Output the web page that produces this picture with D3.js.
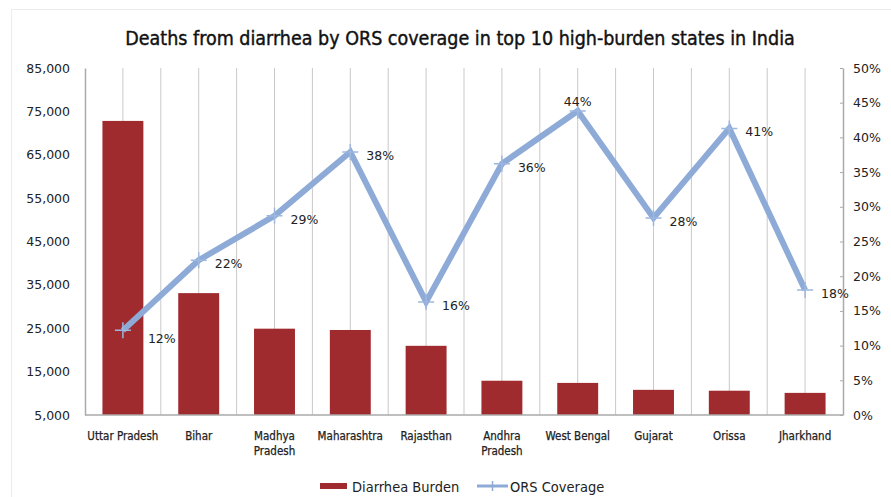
<!DOCTYPE html>
<html lang="en">
<head>
  <meta charset="UTF-8">
  <title>Deaths from diarrhea by ORS coverage</title>
  <style>
    body { margin: 0; background: #fff; }
    .tick-left, .tick-right { font-family: "DejaVu Sans", Verdana, sans-serif; font-size: 12.5px; fill: #222; }
    .cat { font-family: "DejaVu Sans Condensed", "DejaVu Sans", sans-serif; font-stretch: condensed; font-size: 11.5px; fill: #222; stroke: #222; stroke-width: 0.25px; }
    .lbl { font-family: "DejaVu Sans", Verdana, sans-serif; font-size: 12.5px; fill: #222; }
  </style>
  <script src="https://d3js.org/d3.v7.min.js"></script>
</head>
<body>
<div id="chart"></div>
<script>
  // Data
  var states = ["Uttar Pradesh", "Bihar", "Madhya Pradesh", "Maharashtra", "Rajasthan",
                "Andhra Pradesh", "West Bengal", "Gujarat", "Orissa", "Jharkhand"];
  var deaths = [72800, 33100, 24900, 24600, 20950, 12900, 12400, 10800, 10600, 10100];
  var orsCoverage = [0.122, 0.223, 0.287, 0.379, 0.163, 0.362, 0.438, 0.284, 0.413, 0.180];
  var leftTicks = [5000, 15000, 25000, 35000, 45000, 55000, 65000, 75000, 85000];
  var rightTicks = [0, 0.05, 0.10, 0.15, 0.20, 0.25, 0.30, 0.35, 0.40, 0.45, 0.50];

  var width = 891, height = 497;
  var plot = { left: 85, right: 843, top: 68, bottom: 415 };

  var svg = d3.select("#chart").append("svg")
    .attr("width", width)
    .attr("height", height);

  // faint outer frame
  svg.append("rect")
    .attr("x", 11.5).attr("y", 9.5)
    .attr("width", width - 10).attr("height", height)
    .attr("fill", "none").attr("stroke", "#ececec");

  // Title
  svg.append("text")
    .attr("x", 460).attr("y", 45)
    .attr("text-anchor", "middle")
    .style("font-family", "'DejaVu Sans Condensed', 'DejaVu Sans', sans-serif")
    .style("font-stretch", "condensed")
    .style("font-size", "19.5px")
    .style("fill", "#111")
    .style("stroke", "#111")
    .style("stroke-width", "0.4px")
    .text("Deaths from diarrhea by ORS coverage in top 10 high-burden states in India");

  var x = d3.scaleBand().domain(states).range([plot.left, plot.right]).paddingInner(0).paddingOuter(0);
  var yLeft = d3.scaleLinear().domain([5000, 85000]).range([plot.bottom, plot.top]);
  var yRight = d3.scaleLinear().domain([0, 0.5]).range([plot.bottom, plot.top]);

  // vertical gridlines at centers and boundaries
  var gridX = [];
  states.forEach(function (s, i) {
    if (i > 0) gridX.push(x(s));
    gridX.push(x(s) + x.bandwidth() / 2);
  });
  svg.append("g").selectAll("line")
    .data(gridX)
    .enter().append("line")
    .attr("x1", d => d).attr("x2", d => d)
    .attr("y1", plot.top).attr("y2", plot.bottom)
    .attr("stroke", "#c9c9c9").attr("stroke-width", 1);

  // Bars
  var barW = x.bandwidth() * 0.54;
  svg.append("g").selectAll("rect")
    .data(states)
    .enter().append("rect")
    .attr("x", (d) => x(d) + (x.bandwidth() - barW) / 2)
    .attr("y", (d, i) => yLeft(deaths[i]))
    .attr("width", barW)
    .attr("height", (d, i) => plot.bottom - yLeft(deaths[i]))
    .attr("fill", "#a02b2e");

  // Left axis
  var leftAxis = svg.append("g")
    .attr("transform", "translate(" + plot.left + ",0)")
    .call(d3.axisLeft(yLeft).tickValues(leftTicks).tickSize(0).tickPadding(15).tickFormat(d3.format(",")));
  leftAxis.select(".domain").attr("stroke", "#aaa").attr("stroke-width", 1.5);
  leftAxis.selectAll("text").attr("class", "tick-left").attr("font-family", null).attr("font-size", null).attr("fill", null);

  // Right axis
  var rightAxis = svg.append("g")
    .attr("transform", "translate(" + plot.right + ",0)")
    .call(d3.axisRight(yRight).tickValues(rightTicks).tickSizeInner(-3).tickSizeOuter(0).tickPadding(10).tickFormat(d3.format(".0%")));
  rightAxis.select(".domain").attr("stroke", "#aaa").attr("stroke-width", 1.5);
  rightAxis.selectAll(".tick line").attr("stroke", "#aaa");
  rightAxis.selectAll("text").attr("class", "tick-right").attr("font-family", null).attr("font-size", null).attr("fill", null);

  // Bottom axis line
  svg.append("line")
    .attr("x1", plot.left).attr("x2", plot.right)
    .attr("y1", plot.bottom).attr("y2", plot.bottom)
    .attr("stroke", "#aaa").attr("stroke-width", 1.5);

  // Category labels
  var catG = svg.append("g").selectAll("text")
    .data(states)
    .enter().append("text")
    .attr("class", "cat")
    .attr("text-anchor", "middle")
    .attr("x", d => x(d) + x.bandwidth() / 2)
    .attr("y", 440);
  catG.each(function (d) {
    var parts = (d === "Madhya Pradesh" || d === "Andhra Pradesh") ? d.split(" ") : [d];
    var t = d3.select(this);
    parts.forEach(function (p, j) {
      t.append("tspan")
        .attr("x", x(d) + x.bandwidth() / 2)
        .attr("dy", j === 0 ? 0 : 15)
        .text(p);
    });
  });

  // Line
  var line = d3.line()
    .x((d, i) => x(states[i]) + x.bandwidth() / 2)
    .y(d => yRight(d));
  svg.append("path")
    .datum(orsCoverage)
    .attr("d", line)
    .attr("fill", "none")
    .attr("stroke", "#8eabd8")
    .attr("stroke-width", 6)
    .attr("stroke-linejoin", "miter");

  // Markers (plus signs)
  svg.append("g").selectAll("path")
    .data(orsCoverage)
    .enter().append("path")
    .attr("d", (d, i) => {
      var cx = x(states[i]) + x.bandwidth() / 2, cy = yRight(d);
      return "M" + (cx - 8) + "," + cy + "H" + (cx + 8) + "M" + cx + "," + (cy - 8) + "V" + (cy + 8);
    })
    .attr("stroke", "#9db7df")
    .attr("stroke-width", 1.5);

  // Data labels
  svg.append("g").selectAll("text")
    .data(orsCoverage)
    .enter().append("text")
    .attr("class", "lbl")
    .attr("x", (d, i) => {
      var cx = x(states[i]) + x.bandwidth() / 2;
      if (states[i] === "West Bengal") return cx;
      return cx + (i === 0 ? 25 : 16);
    })
    .attr("y", (d, i) => {
      var cy = yRight(d);
      if (states[i] === "West Bengal") return cy - 5;
      return cy + (i === 0 ? 13 : 8);
    })
    .attr("text-anchor", (d, i) => states[i] === "West Bengal" ? "middle" : "start")
    .text(d => Math.round(d * 100) + "%");

  // Legend
  var legend = svg.append("g").attr("class", "legend");
  legend.append("rect")
    .attr("x", 320).attr("y", 483).attr("width", 27).attr("height", 6)
    .attr("fill", "#a02b2e");
  legend.append("text")
    .attr("x", 352).attr("y", 492)
    .style("font-family", "'DejaVu Sans Condensed', 'DejaVu Sans', sans-serif")
    .style("font-stretch", "condensed")
    .style("font-size", "14.5px")
    .style("fill", "#222")
    .text("Diarrhea Burden");
  legend.append("line")
    .attr("x1", 477).attr("x2", 508).attr("y1", 486).attr("y2", 486)
    .attr("stroke", "#8eabd8").attr("stroke-width", 3);
  legend.append("path")
    .attr("d", "M492.5,481V491")
    .attr("stroke", "#8eabd8").attr("stroke-width", 1.5);
  legend.append("text")
    .attr("x", 510).attr("y", 492)
    .style("font-family", "'DejaVu Sans Condensed', 'DejaVu Sans', sans-serif")
    .style("font-stretch", "condensed")
    .style("font-size", "14.5px")
    .style("fill", "#222")
    .text("ORS Coverage");
</script>
</body>
</html>
